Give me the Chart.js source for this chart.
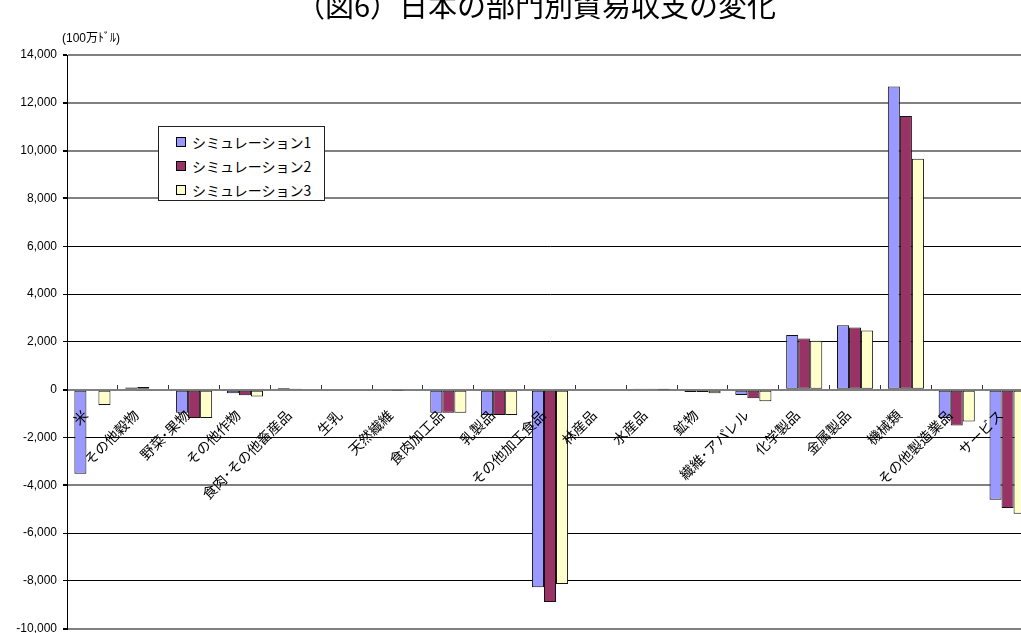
<!DOCTYPE html>
<html lang="ja">
<head>
<meta charset="utf-8">
<script src="https://cdn.jsdelivr.net/npm/chart.js@4/dist/chart.umd.min.js"></script>
<style>
  html, body { margin: 0; padding: 0; background: #fff; overflow: hidden; width: 1021px; height: 633px; }
  #chart { position: absolute; left: 0; top: 0; }
  #title {
    position: absolute; left: 0; width: 1072px; top: -11px; text-align: center;
    font: 29px/30px "Noto Sans CJK JP", sans-serif; color: #000; white-space: nowrap;
  }
  #unit {
    position: absolute; left: 62px; top: 30px;
    font: 12px/16px "Liberation Sans", "Noto Sans CJK JP", sans-serif; color: #000; white-space: nowrap;
  }
  #legend {
    position: absolute; left: 158px; top: 126px; width: 165px; height: 73px;
    border: 1px solid #222; background: #fff; box-sizing: content-box;
  }
  .row { position: absolute; left: 17px; height: 20px; display: flex; align-items: center;
    font: 14px/20px "Noto Sans CJK JP", sans-serif; color: #000; white-space: nowrap; }
  .sw { width: 8px; height: 8px; border: 1px solid #000; margin-right: 6px; }
</style>
</head>
<body>
<canvas id="chart" width="1046" height="642"></canvas>
<div id="title">（図6）日本の部門別貿易収支の変化</div>
<div id="unit">(100万ﾄﾞﾙ)</div>
<div id="legend"></div>
<script>
// Sectors on the category axis
const categories = [
  '米', 'その他穀物', '野菜･果物', 'その他作物', '食肉･その他畜産品', '生乳', '天然繊維',
  '食肉加工品', '乳製品', 'その他加工食品', '林産品', '水産品', '鉱物', '繊維･アパレル',
  '化学製品', '金属製品', '機械類', 'その他製造業品', 'サービス'
];

// Trade balance change per sector (million US$)
const sim1 = [-3520, 90, -960, -150, 70, 0, 0, -960, -1060, -8260, -40, 30, -100, -220, 2290, 2700, 12680, -1180, -4600];
const sim2 = [0, 110, -1180, -230, 20, 0, -20, -960, -1060, -8880, -40, 30, -100, -360, 2140, 2600, 11450, -1500, -4950];
const sim3 = [-640, 40, -1180, -280, 40, 0, 0, -960, -1060, -8130, -40, 10, -150, -480, 2050, 2480, 9660, -1330, -5190];

const seriesNames = ['シミュレーション1', 'シミュレーション2', 'シミュレーション3'];
const seriesColors = ['#9999FF', '#993366', '#FFFFCC'];

// Value axis range and step
const yMin = -10000;
const yMax = 14000;
const yStep = 2000;
// Grid lines rendered in a softer, heavier grey
const softGridValues = [14000, 12000, 10000, 8000, 0, -4000, -10000];

const seriesValues = [sim1, sim2, sim3];

// Legend box
const legendEl = document.getElementById('legend');
seriesNames.forEach((name, i) => {
  const row = document.createElement('div');
  row.className = 'row';
  row.style.top = (5 + i * 24) + 'px';
  const sw = document.createElement('span');
  sw.className = 'sw';
  sw.style.background = seriesColors[i];
  const tx = document.createElement('span');
  tx.textContent = name;
  row.appendChild(sw);
  row.appendChild(tx);
  legendEl.appendChild(row);
});

new Chart(document.getElementById('chart'), {
  type: 'bar',
  data: {
    labels: categories,
    datasets: seriesNames.map((name, i) => ({
      label: name,
      data: seriesValues[i],
      backgroundColor: seriesColors[i],
      borderColor: '#111',
      borderWidth: 1,
      borderSkipped: false,
      categoryPercentage: 0.71,
      barPercentage: 1.0
    }))
  },
  options: {
    responsive: false,
    devicePixelRatio: 1,
    animation: false,
    layout: { padding: { top: 55, bottom: 6, left: 0, right: 13 } },
    plugins: {
      legend: { display: false },
      tooltip: { enabled: false },
      title: { display: false }
    },
    scales: {
      x: {
        position: { y: 0 },
        border: { display: false },
        grid: {
          display: true,
          drawOnChartArea: false,
          drawTicks: true,
          tickLength: -5,
          color: '#333',
          offset: true
        },
        ticks: {
          z: 1,
          autoSkip: false,
          maxRotation: 45,
          minRotation: 45,
          padding: 22,
          labelOffset: -7,
          color: '#000',
          font: { family: '"Noto Sans CJK JP", sans-serif', size: 14 }
        },
        afterFit(scale) { scale.height = 0; }
      },
      y: {
        min: yMin,
        max: yMax,
        border: { display: true, color: '#000', width: 1 },
        grid: {
          color: ctx => softGridValues.includes(ctx.tick && ctx.tick.value) ? '#808080' : '#000',
          lineWidth: ctx => softGridValues.includes(ctx.tick && ctx.tick.value) ? 2 : 1,
          tickLength: 4,
          tickColor: '#000'
        },
        ticks: {
          stepSize: yStep,
          padding: 6,
          color: '#000',
          font: { family: '"Liberation Sans", Arial, sans-serif', size: 12 }
        },
        afterFit(scale) { scale.width = 67; }
      }
    }
  }
});
</script>
</body>
</html>
